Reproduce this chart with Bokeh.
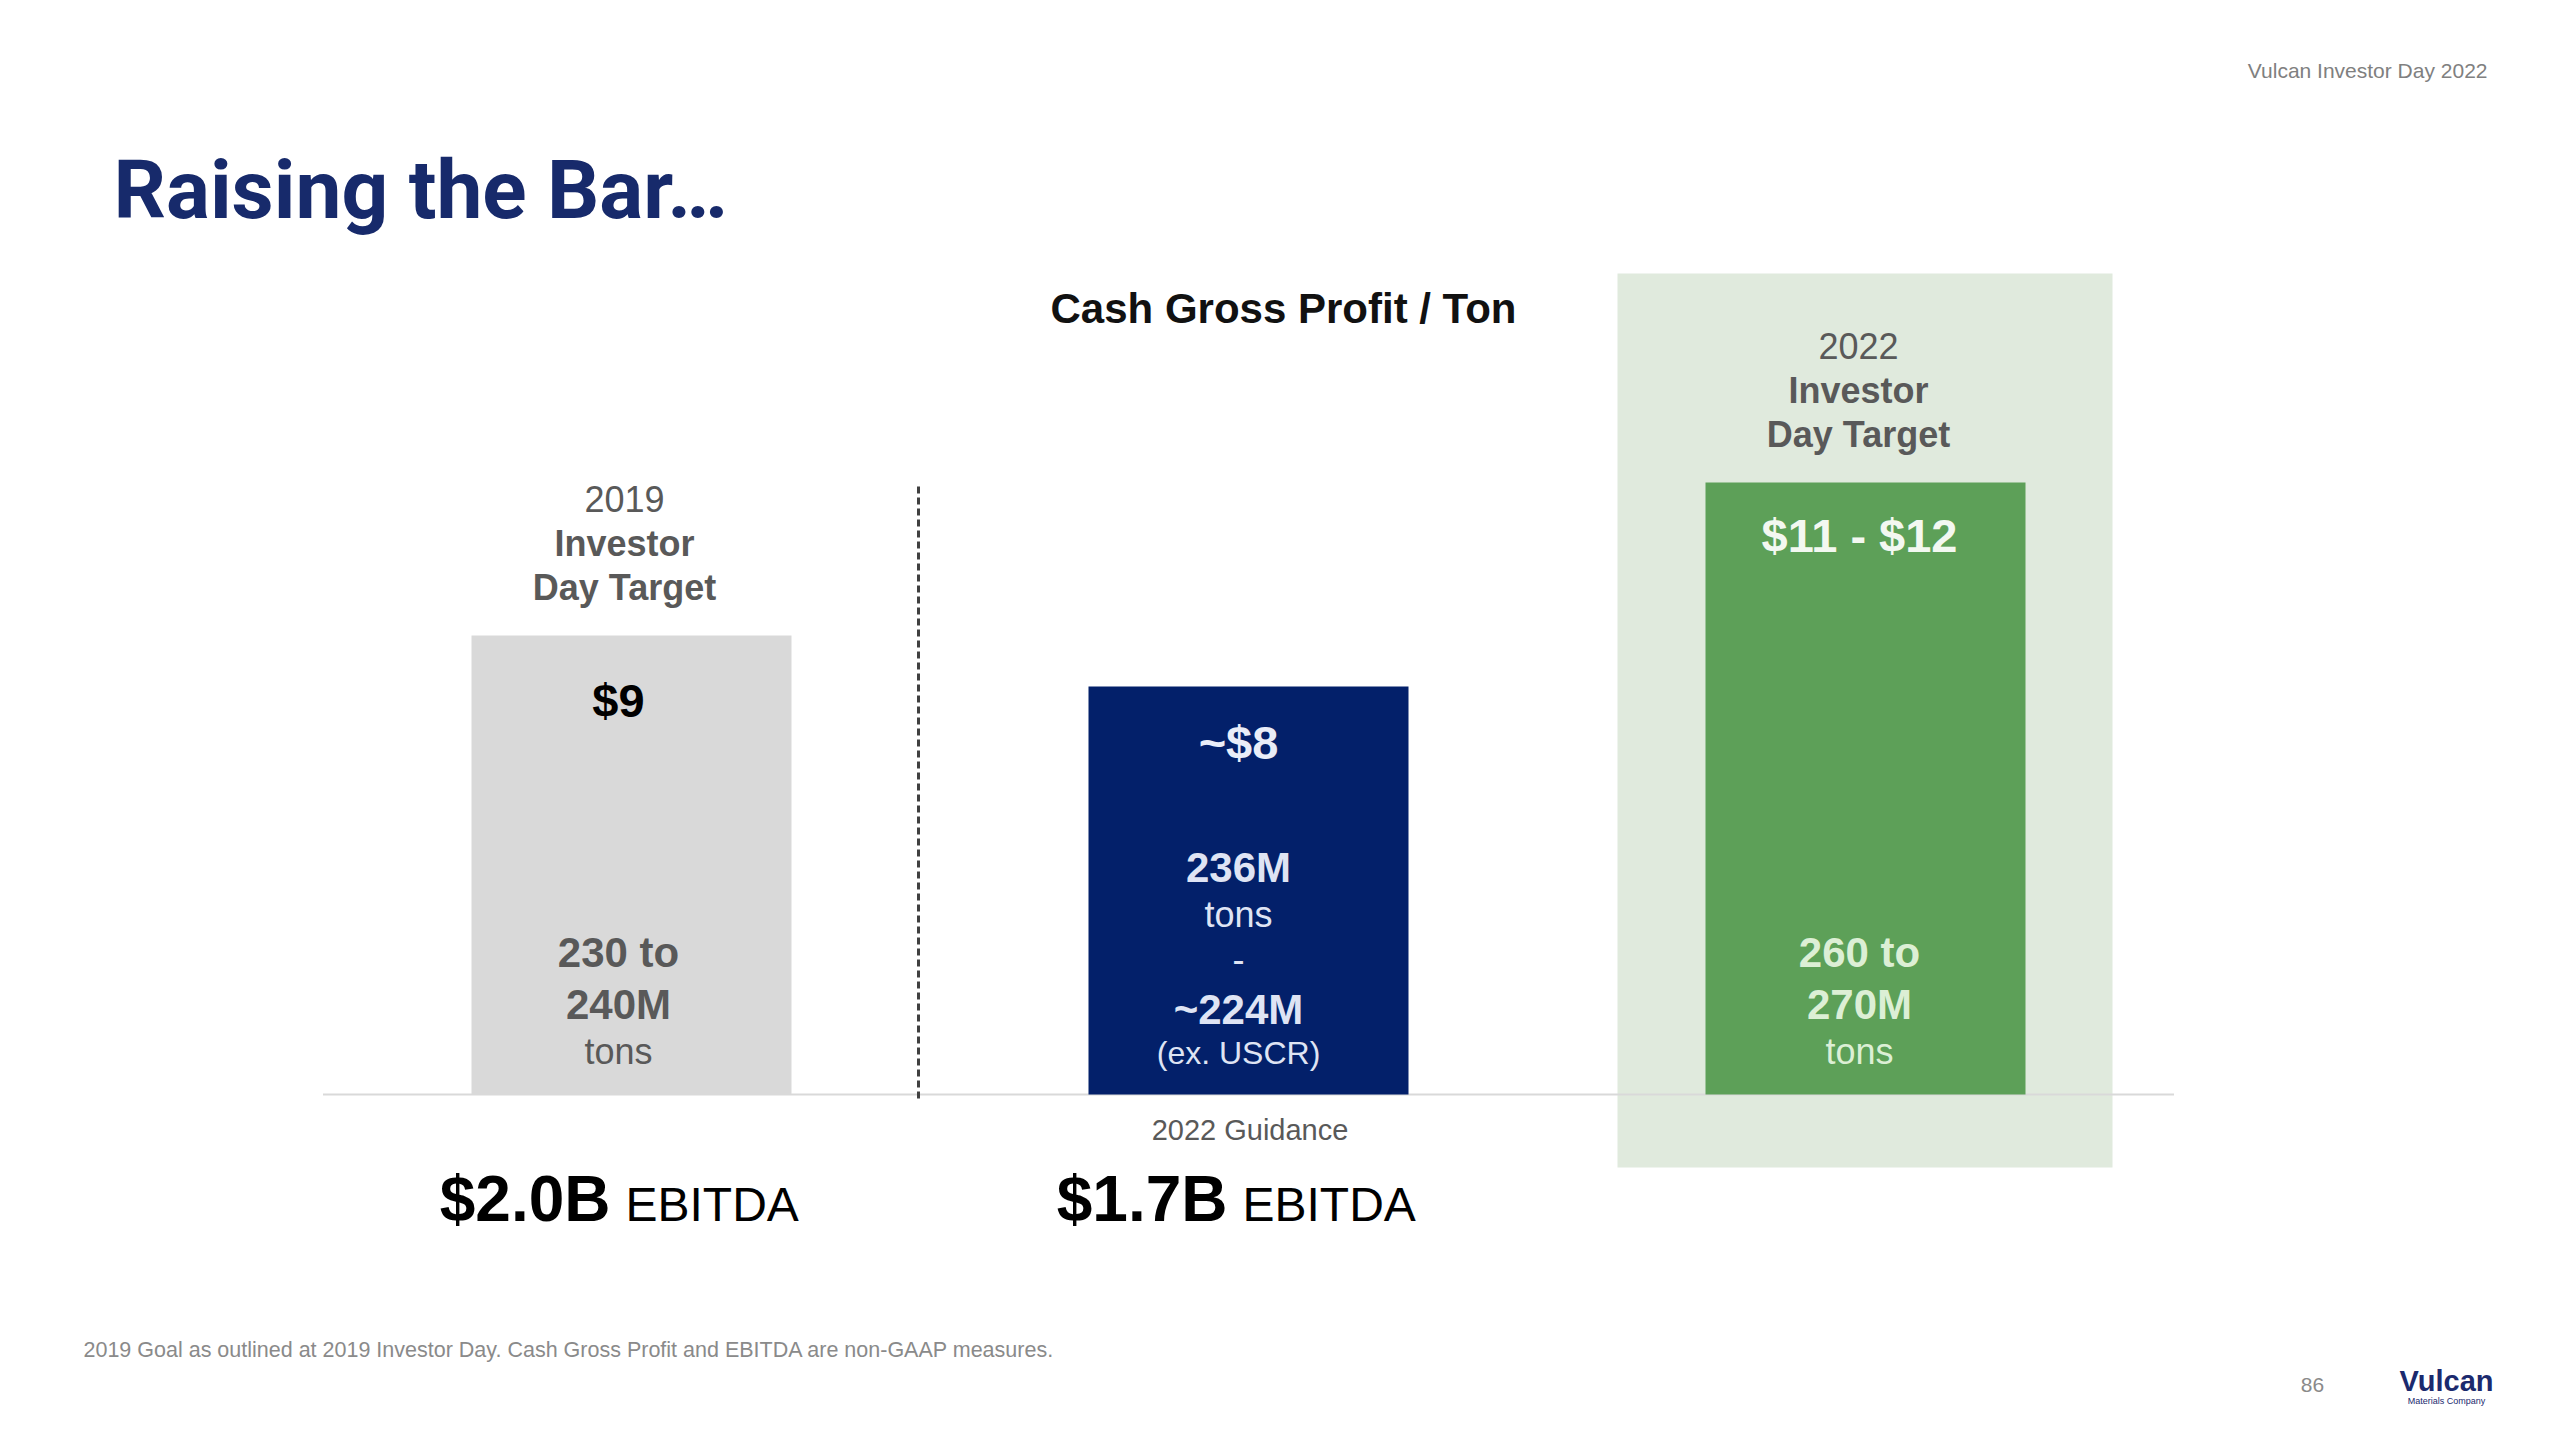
from bokeh.plotting import figure
from bokeh.models import Range1d
from bokeh.core.properties import value
from bokeh.embed import file_html
from bokeh.resources import INLINE

# ---------------- data ----------------
categories = ["2019 Investor Day Target", "2022 Guidance", "2022 Investor Day Target"]
cash_gross_profit_per_ton = [9, 8, 12]
value_labels = ["$9", "~$8", "$11 - $12"]
header_years = ["2019", None, "2022"]
header_lines = ["Investor", "Day Target"]
volume_lines = [
    [("230 to", "bold"), ("240M", "bold"), ("tons", "regular")],
    [("236M", "bold"), ("tons", "regular"), ("-", "regular"), ("~224M", "bold"), ("(ex. USCR)", "small")],
    [("260 to", "bold"), ("270M", "bold"), ("tons", "regular")],
]
ebitda_amounts = ["$2.0B", "$1.7B", None]
ebitda_unit = "EBITDA"
sub_labels = [None, "2022 Guidance", None]
chart_heading = "Cash Gross Profit / Ton"
page_title = "Raising the Bar\u2026"
event_label = "Vulcan Investor Day 2022"
footnote = "2019 Goal as outlined at 2019 Investor Day. Cash Gross Profit and EBITDA are non-GAAP measures."
page_number = "86"
logo_name = "Vulcan"
logo_sub = "Materials Company"
highlight_index = 2
divider_after_index = 0

# ---------------- layout / style ----------------
W, H = 2544, 1424
PAGE = 0
X0 = 631            # page x of first category centre
PX_PER_CAT = 617
BASE_Y = 1094       # page y of the zero line
PX_PER_USD = 51
FONT = "Liberation Sans"
TITLE_FONT = "Roboto"
BASELINE_FIX = 0.35   # em correction so that y is the visual baseline

bar_colors = ["#d9d9d9", "#03206a", "#5da058"]
value_colors = ["#000000", "#e9edf8", "#f3f8f1"]
volume_colors = ["#595959", "#dfe4f4", "#dcefd5"]
value_label_drop_px = [81, 72, 69]
label_dx_px = [-13, -10, -6]
sizes = {"bold": 42, "regular": 36, "small": 32}


def x_of(X):
    return (X - X0) / PX_PER_CAT


def y_of(Y):
    return (BASE_Y - Y) / PX_PER_USD


def dxp(px):
    return px / PX_PER_CAT


def dyp(px):
    return px / PX_PER_USD


p = figure(width=W, height=H, output_backend="svg", toolbar_location=None,
           x_range=Range1d(x_of(PAGE), x_of(PAGE + W)),
           y_range=Range1d(y_of(PAGE + H), y_of(PAGE)),
           x_axis_type=None, y_axis_type=None, min_border=0,
           outline_line_color=None, background_fill_color="white",
           border_fill_color="white")
p.grid.visible = False


def txt(x, y, s, size, color, style="normal", align="center", font=FONT):
    p.text(x=[x], y=[y + dyp(BASELINE_FIX * size)], text=[s], text_font=value(font),
           text_font_size=f"{size}px", text_font_style=style, text_color=color,
           text_align=align, text_baseline="alphabetic")


idx = list(range(len(categories)))
hv = cash_gross_profit_per_ton[highlight_index]

# highlight panel
p.quad(left=[highlight_index - dxp(248)], right=[highlight_index + dxp(247)],
       bottom=[-dyp(73)], top=[hv + dyp(209)], fill_color="#e0eadd", line_color=None)

# zero line
p.segment(x0=[-0.5], x1=[len(categories) - 0.5], y0=[0], y1=[0],
          line_color="#d9d9d9", line_width=2)

# bars
p.vbar(x=idx, top=cash_gross_profit_per_ton, bottom=0, width=320 / PX_PER_CAT,
       fill_color=bar_colors, line_color=None)

# dashed divider
p.segment(x0=[divider_after_index + dxp(287)], x1=[divider_after_index + dxp(287)],
          y0=[-dyp(4)], y1=[max(cash_gross_profit_per_ton)],
          line_color="#404040", line_width=3, line_dash="7 4")

# header labels above bars
for i in idx:
    if header_years[i]:
        v = cash_gross_profit_per_ton[i]
        xc = i + dxp(-7)
        txt(xc, v + dyp(124), header_years[i], 36, "#595959")
        txt(xc, v + dyp(79), header_lines[0], 36, "#595959", "bold")
        txt(xc, v + dyp(35), header_lines[1], 36, "#595959", "bold")

# value labels inside bars
for i in idx:
    v = cash_gross_profit_per_ton[i]
    txt(i + dxp(label_dx_px[i]), v - dyp(value_label_drop_px[i]), value_labels[i], 47,
        value_colors[i], "bold")

# volume lines, stacked from the bottom
for i in idx:
    y_px = 30
    lines = volume_lines[i]
    for k in range(len(lines) - 1, -1, -1):
        s, kind = lines[k]
        txt(i + dxp(label_dx_px[i]), dyp(y_px), s, sizes[kind], volume_colors[i],
            "bold" if kind == "bold" else "normal")
        y_px += 1.25 * sizes[kind]

# sub labels below the zero line
for i in idx:
    if sub_labels[i]:
        txt(i + dxp(1.5), -dyp(46), sub_labels[i], 29, "#595959")

# EBITDA
for i in idx:
    if ebitda_amounts[i]:
        txt(i + dxp(-21), -dyp(127), ebitda_amounts[i], 64, "#000000", "bold", "right")
        txt(i + dxp(-6), -dyp(127), ebitda_unit, 48, "#000000", "normal", "left")

# page texts
txt(x_of(1283), y_of(323), chart_heading, 42, "#111111", "bold")
txt(x_of(113), y_of(218), page_title, 82, "#172a6b", "bold", "left", TITLE_FONT)
txt(x_of(2487), y_of(77), event_label, 21, "#808080", "normal", "right")
txt(x_of(83), y_of(1357), footnote, 21.5, "#8a8a8a", "normal", "left")
txt(x_of(2312), y_of(1392), page_number, 21, "#8a8a8a")
txt(x_of(2446), y_of(1391), logo_name, 29, "#1b2a6e", "bold")
txt(x_of(2446), y_of(1404), logo_sub, 9, "#1b2a6e")

open("out.html", "w").write(file_html(p, INLINE))
